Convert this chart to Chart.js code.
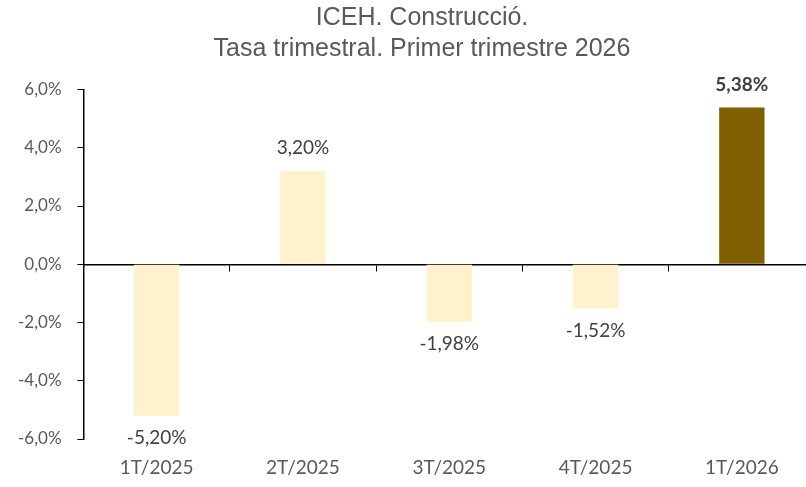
<!DOCTYPE html>
<html>
<head>
<meta charset="utf-8">
<script src="https://cdn.jsdelivr.net/npm/chart.js@4.4.1/dist/chart.umd.min.js"></script>
<style>
  html, body { margin: 0; padding: 0; background: #ffffff; overflow: hidden; }
  #wrap { width: 842px; height: 487px; }
</style>
</head>
<body>
<div id="wrap"><canvas id="chart"></canvas></div>
<script>
// Dati del grafico
const categories = ["1T/2025", "2T/2025", "3T/2025", "4T/2025", "1T/2026"];
const values = [-5.20, 3.20, -1.98, -1.52, 5.38];
const barColors = ["#FFF2CC", "#FFF2CC", "#FFF2CC", "#FFF2CC", "#7F6000"];
const boldLabels = [false, false, false, false, true];
const titleLines = ["ICEH. Construcció.", "Tasa trimestral. Primer trimestre 2026"];

const fmt = (v, d) => v.toFixed(d).replace(".", ",") + "%";

// Etichette dei valori sopra/sotto le barre
const valueLabels = {
  id: "valueLabels",
  afterDatasetsDraw(chart) {
    const ctx = chart.ctx;
    const meta = chart.getDatasetMeta(0);
    ctx.save();
    ctx.textAlign = "center";
    ctx.textBaseline = "middle";
    meta.data.forEach((bar, i) => {
      const v = values[i];
      ctx.font = (boldLabels[i] ? "bold " : "") + "19px Lato";
      ctx.fillStyle = "#404040";
      const y = v >= 0 ? bar.y - 23 : bar.y + 22;
      ctx.fillText(fmt(v, 2), bar.x, y);
    });
    ctx.restore();
  }
};

new Chart(document.getElementById("chart"), {
  type: "bar",
  data: {
    labels: categories,
    datasets: [{
      data: values,
      backgroundColor: barColors,
      barPercentage: 0.31,
      categoryPercentage: 1
    }]
  },
  options: {
    responsive: true,
    maintainAspectRatio: false,
    animation: false,
    layout: { padding: { left: 2, right: 0, top: 0, bottom: 8 } },
    plugins: {
      legend: { display: false },
      tooltip: { enabled: false },
      title: {
        display: true,
        text: titleLines,
        color: "#595959",
        font: { family: "Liberation Sans", size: 25, weight: "normal", lineHeight: 1.26 },
        padding: { top: 2, bottom: 24.5 }
      }
    },
    scales: {
      x: {
        position: { y: 0 },
        grid: { display: true, drawOnChartArea: false, offset: true, tickLength: 6, color: "#000000", tickColor: "#000000" },
        border: { display: true, color: "#000000", width: 1.5 },
        ticks: { display: false },
        afterFit: (s) => { s.height = 0; }
      },
      x2: {
        type: "category",
        labels: categories,
        position: "bottom",
        grid: { display: false, drawTicks: false },
        border: { display: false },
        ticks: { color: "#595959", font: { family: "Lato", size: 19 }, padding: 17 },
        afterFit: (s) => { s.height = 40; }
      },
      y: {
        min: -6,
        max: 6,
        grid: {
          drawOnChartArea: false,
          tickLength: 6,
          tickColor: "#000000"
        },
        border: { display: true, color: "#000000", width: 1.5 },
        ticks: {
          stepSize: 2,
          padding: 16,
          color: "#595959",
          font: { family: "Lato", size: 17 },
          callback: (v) => fmt(v, 1)
        }
      },
      // spazio vuoto a destra, fuori dalla finestra
      yRight: {
        position: "right",
        grid: { display: false },
        border: { display: false },
        ticks: { display: false },
        afterFit: (s) => { s.width = 27; }
      }
    }
  },
  plugins: [valueLabels]
});
</script>
</body>
</html>
